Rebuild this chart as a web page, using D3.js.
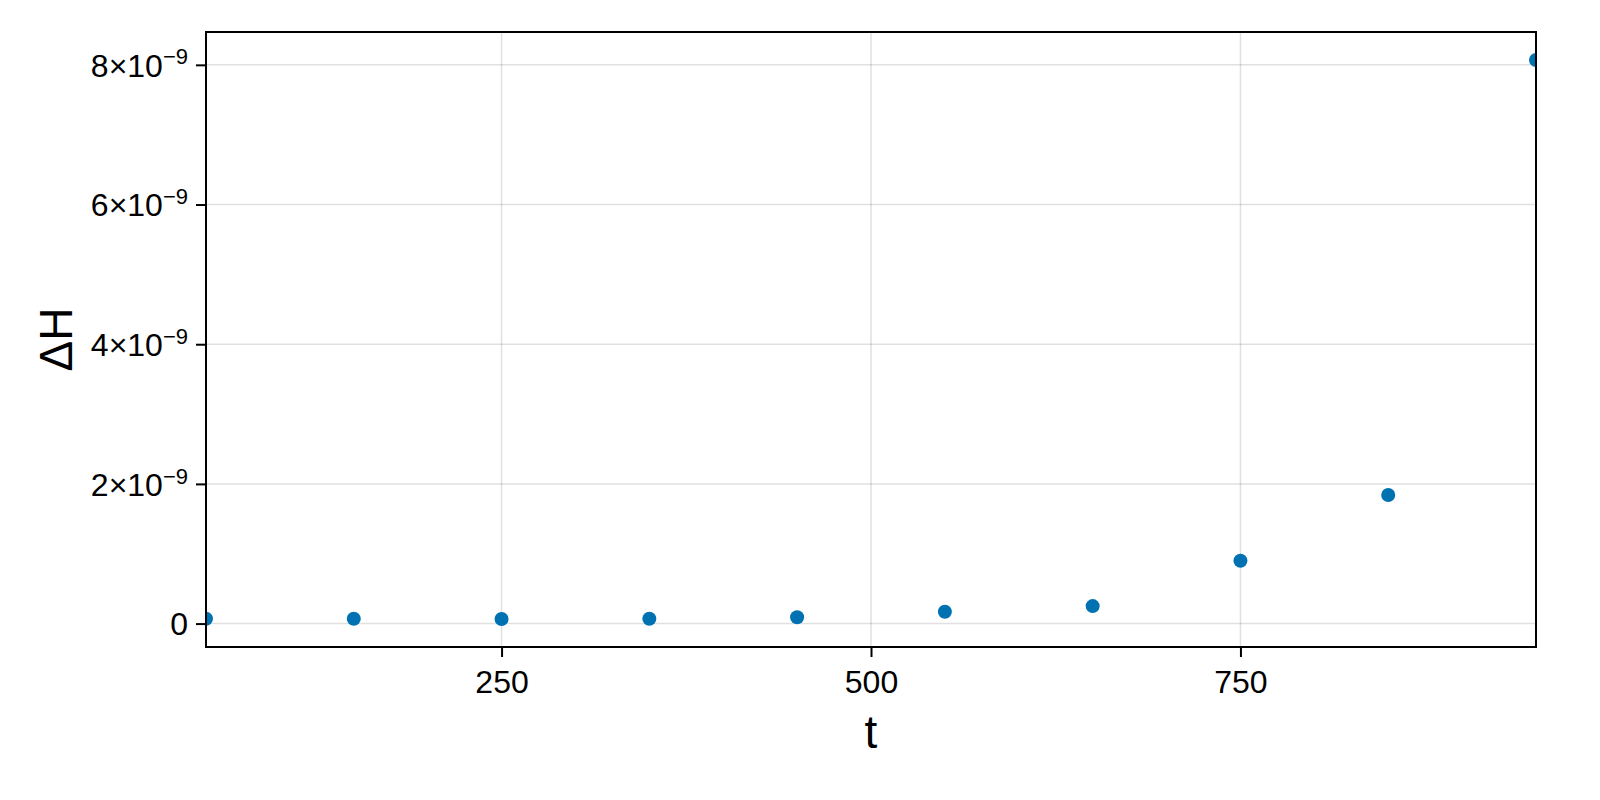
<!DOCTYPE html>
<html lang="en">
  <head>
    <title>Delta H vs t</title>
    <script src="https://d3js.org/d3.v7.min.js"></script>
    <style>
      body { margin: 0; background: #fff; }
      text { font-family: "Liberation Sans", Arial, sans-serif; fill: #000; }
      .grid line { stroke: rgba(0,0,0,0.12); stroke-width: 1.5; }
      .axis path, .axis line { stroke: #000; stroke-width: 2; }
    </style>
  </head>
  <body>
    <svg width="1600" height="800"></svg>

    <script>
      // values
      var tValues = [50, 150, 250, 350, 450, 550, 650, 750, 850, 950];
      var dHValues = [0.07e-9, 0.07e-9, 0.065e-9, 0.07e-9, 0.09e-9, 0.17e-9, 0.25e-9, 0.9e-9, 1.84e-9, 8.07e-9];
      var xTicks = [250, 500, 750];
      var yTicks = [0, 2e-9, 4e-9, 6e-9, 8e-9];

      // plot box ("top" is taken by window.top, so prefix them)
      var pLeft = 206, pRight = 1536, pTop = 32, pBottom = 647;

      var x = d3.scaleLinear().domain([50, 950]).range([pLeft, pRight]);

      // 5% padding around the data, like the original autolimits
      var yMin = d3.min(dHValues), yMax = d3.max(dHValues);
      var pad = (yMax - yMin) * 0.05;
      var y = d3.scaleLinear().domain([yMin - pad, yMax + pad]).range([pBottom, pTop]);

      var svg = d3.select("svg");

      svg.append("defs").append("clipPath").attr("id", "plotclip")
         .append("rect").attr("x", pLeft).attr("y", pTop)
         .attr("width", pRight - pLeft).attr("height", pBottom - pTop);

      // grid
      var grid = svg.append("g").attr("class", "grid");
      grid.selectAll("line.gx").data(xTicks).enter().append("line")
          .attr("x1", function(d){return x(d);}).attr("x2", function(d){return x(d);})
          .attr("y1", pTop).attr("y2", pBottom);
      grid.selectAll("line.gy").data(yTicks).enter().append("line")
          .attr("y1", function(d){return y(d);}).attr("y2", function(d){return y(d);})
          .attr("x1", pLeft).attr("x2", pRight);

      // points
      svg.append("g").attr("clip-path", "url(#plotclip)")
         .selectAll("circle").data(tValues).enter().append("circle")
         .attr("cx", function(d){return x(d);})
         .attr("cy", function(d, i){return y(dHValues[i]);})
         .attr("r", 7)
         .attr("fill", "#0072B2");

      // frame
      svg.append("rect").attr("x", pLeft).attr("y", pTop)
         .attr("width", pRight - pLeft).attr("height", pBottom - pTop)
         .attr("fill", "none").attr("stroke", "#000").attr("stroke-width", 2);

      // x axis
      var xAxis = svg.append("g").attr("class", "axis")
         .attr("transform", "translate(0," + pBottom + ")")
         .call(d3.axisBottom(x).tickValues(xTicks).tickSize(10).tickPadding(13));
      xAxis.select(".domain").remove();
      xAxis.selectAll("text").style("font-size", "32px").attr("font-family", null);

      // y axis
      var yAxis = svg.append("g").attr("class", "axis")
         .attr("transform", "translate(" + pLeft + ",0)")
         .call(d3.axisLeft(y).tickValues(yTicks).tickSize(10).tickPadding(8).tickFormat(""));
      yAxis.select(".domain").remove();
      yAxis.selectAll(".tick").each(function(d){
        var t = d3.select(this).select("text")
          .style("font-size", "32px").attr("font-family", null)
          .attr("dy", "0.35em");
        t.text(null);
        if (d === 0) {
          t.text("0");
        } else {
          var m = Math.round(d / 1e-9);
          t.append("tspan").text(m + "\u00d710");
          t.append("tspan").attr("dy", "-0.55em").style("font-size", "22px").text("\u22129");
        }
      });

      // axis labels
      svg.append("text").attr("x", (pLeft + pRight) / 2).attr("y", 748)
         .attr("text-anchor", "middle").style("font-size", "46px").text("t");
      svg.append("text")
         .attr("transform", "translate(72," + ((pTop + pBottom) / 2) + ") rotate(-90)")
         .attr("text-anchor", "middle").style("font-size", "46px").text("\u0394H");
    </script>
  </body>
</html>
